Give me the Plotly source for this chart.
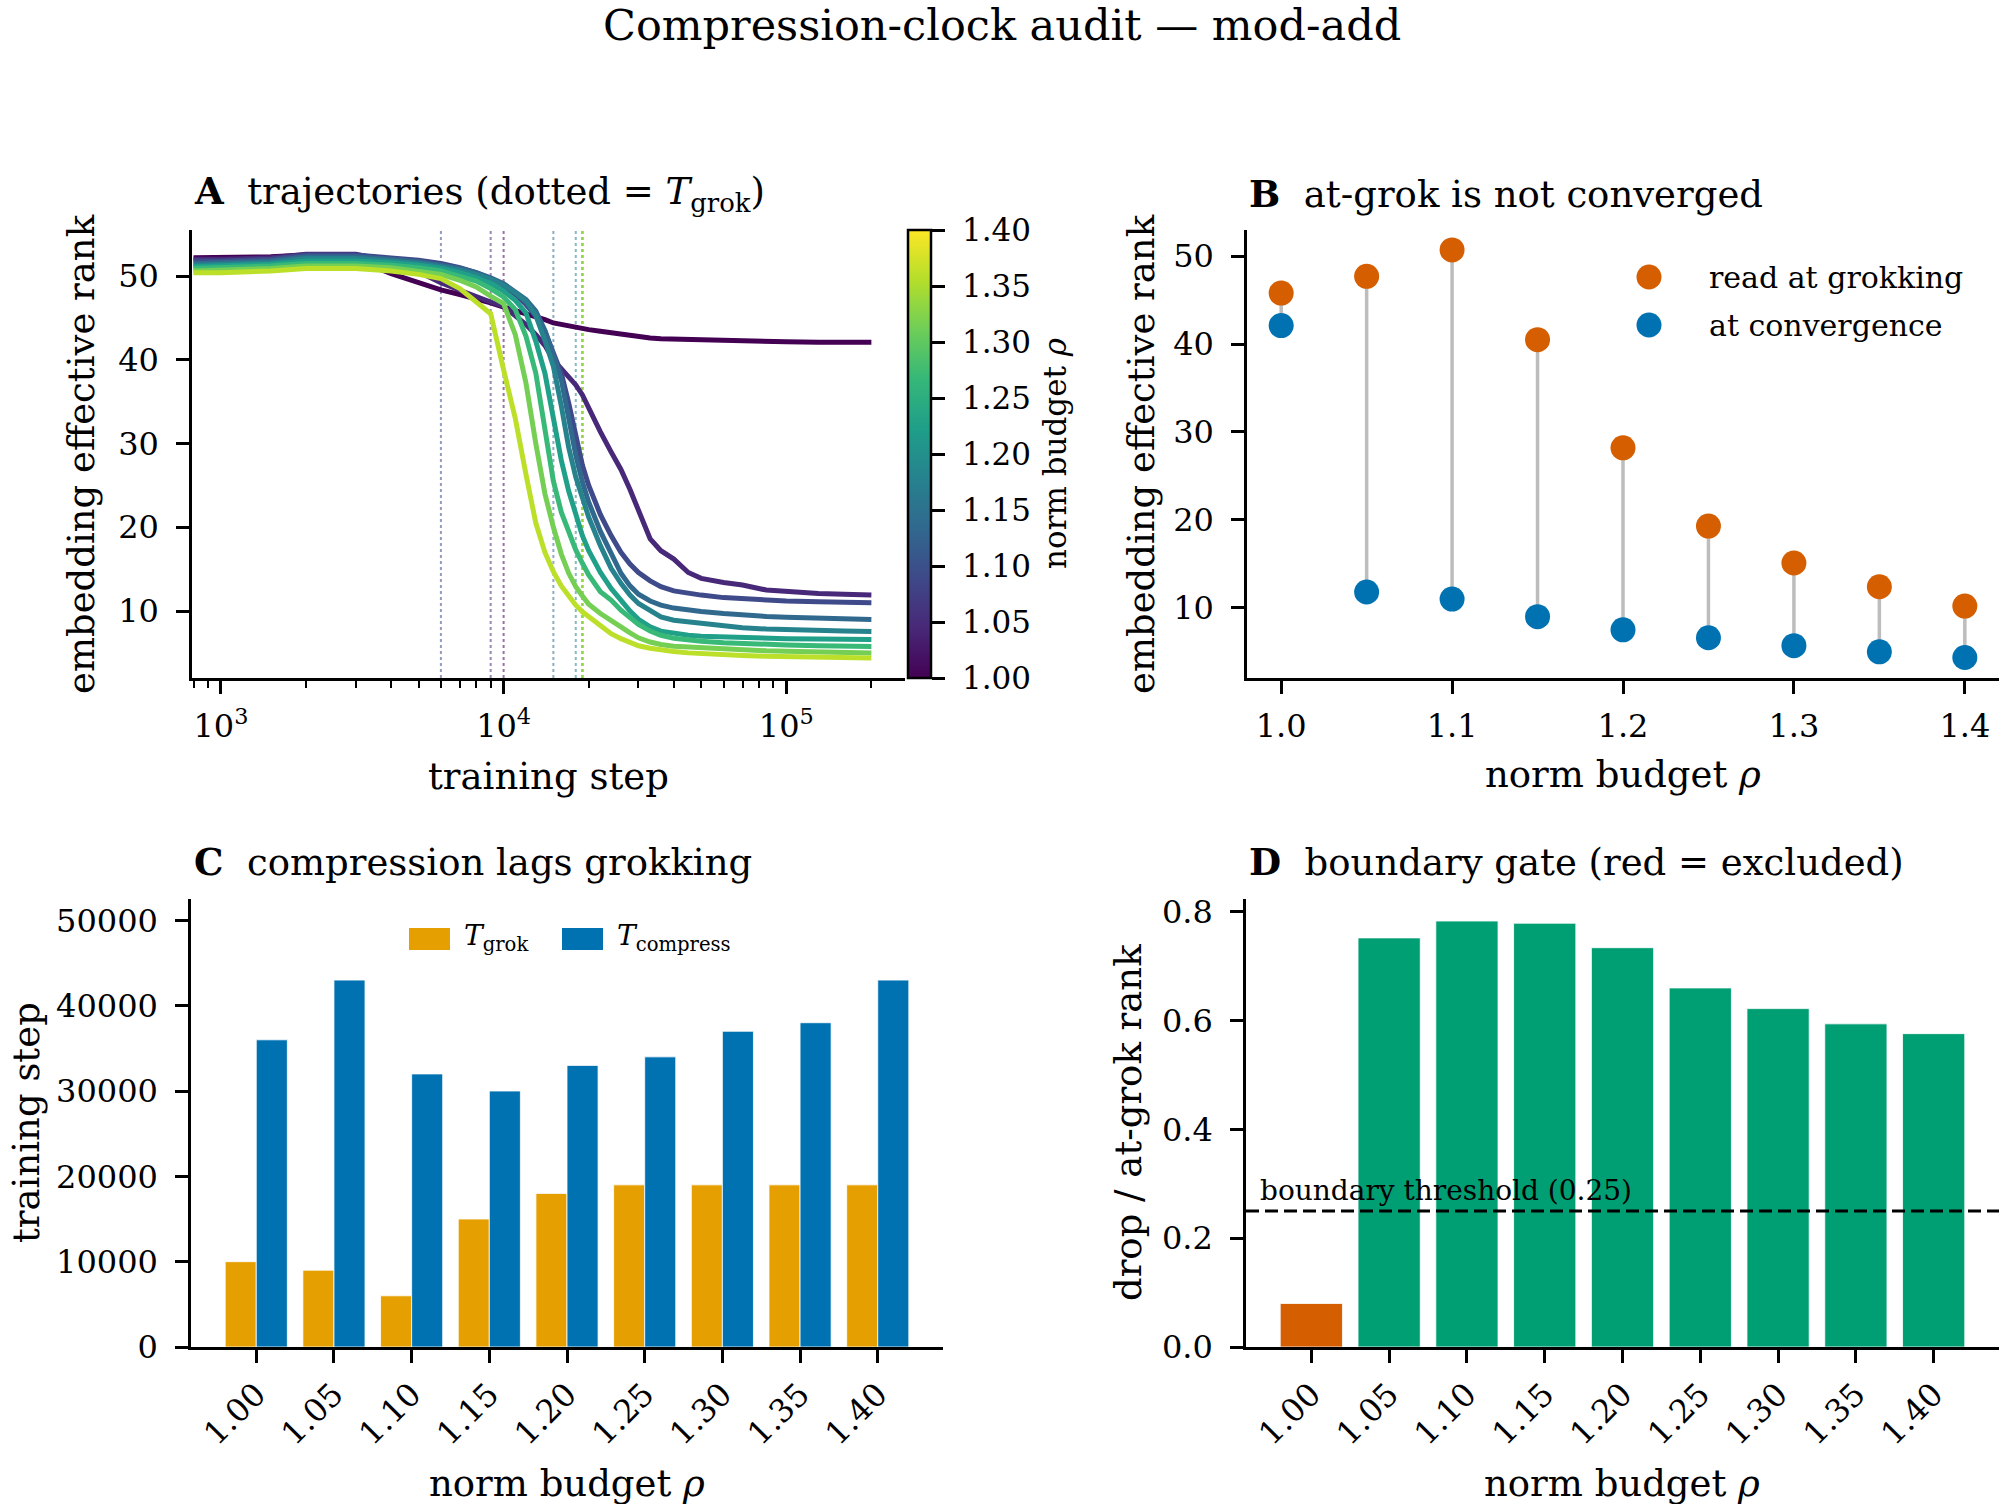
import numpy as np
import plotly.graph_objects as go
from plotly.colors import sample_colorscale

FONT = "DejaVu Serif"

# ---------------- data ----------------
rho = [1.00, 1.05, 1.10, 1.15, 1.20, 1.25, 1.30, 1.35, 1.40]
rho_labels = ["1.00", "1.05", "1.10", "1.15", "1.20", "1.25", "1.30", "1.35", "1.40"]

steps = [800, 1000, 1500, 2000, 3000, 4000, 5000, 6000, 7000, 8000, 9000, 10000,
         11000, 12000, 13000, 14000, 15000, 16000, 17000, 18000, 19000, 20000,
         22000, 24000, 26000, 28000, 30000, 33000, 36000, 40000, 45000, 50000,
         60000, 70000, 85000, 100000, 130000, 160000, 200000]

rank_100 = [52.2, 52.2, 52.3, 52.5, 52.0, 50.3, 49.2, 48.35, 47.8, 47.3, 46.8, 46.3, 45.9,
            45.5, 45.1, 44.8, 44.4, 44.2, 44.0, 43.85, 43.7, 43.6, 43.4, 43.2, 43.0, 42.85,
            42.7, 42.6, 42.5, 42.45, 42.4, 42.35, 42.3, 42.25, 42.2, 42.15, 42.1, 42.1, 42.1]
rank_105 = [52.0, 52.0, 52.2, 52.6, 52.6, 51.8, 50.5, 49.2, 48.3, 47.5, 46.9, 46.4, 45.3,
            44.2, 43.0, 41.7, 40.0, 38.9, 37.9, 37.0, 35.8, 34.2, 31.4, 29.0, 26.9, 24.5,
            22.0, 18.6, 17.2, 16.2, 14.6, 13.9, 13.4, 13.1, 12.5, 12.3, 12.1, 12.0, 11.9]
rank_110 = [51.8, 51.8, 52.0, 52.5, 52.5, 52.2, 51.9, 51.5, 51.0, 50.4, 49.7, 48.8, 47.8,
            46.6, 45.2, 43.4, 41.0, 38.4, 34.8, 30.8, 27.4, 25.0, 21.5, 19.0, 17.0, 15.6,
            14.6, 13.6, 12.9, 12.4, 12.1, 11.9, 11.6, 11.45, 11.3, 11.2, 11.1, 11.05, 11.0]
rank_115 = [51.5, 51.6, 51.8, 52.3, 52.3, 52.0, 51.7, 51.3, 50.9, 50.4, 49.8, 49.1, 48.2,
            47.2, 45.8, 43.5, 40.6, 37.6, 33.0, 28.6, 25.4, 23.0, 19.5, 16.8, 14.5, 13.0,
            12.0, 11.2, 10.7, 10.35, 10.1, 9.95, 9.7, 9.5, 9.35, 9.25, 9.1, 9.05, 9.0]
rank_120 = [51.3, 51.4, 51.6, 52.1, 52.1, 51.8, 51.5, 51.1, 50.7, 50.2, 49.6, 48.9, 48.0,
            47.0, 45.3, 42.3, 39.2, 34.5, 29.5, 26.0, 23.4, 21.2, 17.8, 15.1, 13.3, 11.9,
            10.9, 10.0, 9.3, 8.9, 8.7, 8.55, 8.2, 8.0, 7.85, 7.75, 7.65, 7.6, 7.55]
rank_125 = [51.1, 51.2, 51.4, 51.8, 51.8, 51.6, 51.3, 50.9, 50.4, 49.8, 49.1, 48.2, 47.1,
            45.6, 42.2, 38.4, 33.0, 28.0, 24.3, 21.3, 19.0, 17.2, 14.6, 12.7, 11.2, 10.0,
            9.0, 8.1, 7.6, 7.3, 7.1, 7.0, 6.9, 6.85, 6.75, 6.7, 6.65, 6.6, 6.6]
rank_130 = [50.9, 51.0, 51.2, 51.5, 51.5, 51.3, 51.0, 50.6, 50.0, 49.4, 48.5, 47.5, 46.0,
            42.8, 38.4, 31.5, 25.5, 21.8, 19.3, 17.3, 15.7, 14.3, 12.3, 11.3, 10.1, 9.2,
            8.4, 7.6, 7.1, 6.75, 6.5, 6.4, 6.2, 6.1, 6.0, 5.95, 5.85, 5.8, 5.75]
rank_135 = [50.6, 50.7, 50.9, 51.2, 51.2, 51.0, 50.6, 50.2, 49.5, 48.7, 47.6, 46.7, 43.0,
            37.2, 30.0, 24.0, 20.0, 16.8, 14.5, 12.9, 11.8, 10.8, 9.7, 8.8, 8.1, 7.4,
            6.8, 6.3, 6.0, 5.8, 5.7, 5.6, 5.45, 5.35, 5.25, 5.2, 5.1, 5.05, 5.0]
rank_140 = [50.4, 50.4, 50.6, 50.9, 50.9, 50.6, 50.2, 49.7, 48.5, 46.9, 45.5, 38.8, 33.0,
            26.3, 20.5, 17.0, 14.7, 13.0, 11.7, 10.7, 9.9, 9.3, 8.2, 7.3, 6.7, 6.2,
            5.85, 5.55, 5.35, 5.17, 5.0, 4.9, 4.8, 4.7, 4.6, 4.55, 4.5, 4.45, 4.4]
trajectories = [rank_100, rank_105, rank_110, rank_115, rank_120,
                rank_125, rank_130, rank_135, rank_140]

t_grok = [10000, 9000, 6000, 15000, 18000, 19000, 19000, 19000, 19000]
t_compress = [36000, 43000, 32000, 30000, 33000, 34000, 37000, 38000, 43000]

rank_at_grok = [45.8, 47.7, 50.7, 40.5, 28.2, 19.3, 15.1, 12.4, 10.2]
rank_at_conv = [42.1, 11.8, 11.0, 9.0, 7.5, 6.6, 5.7, 5.0, 4.35]

drop_ratio = [0.08, 0.752, 0.783, 0.779, 0.734, 0.660, 0.622, 0.594, 0.576]
threshold = 0.25

# ---------------- styling ----------------
C_ORANGE = "#E69F00"
C_BLUE = "#0072B2"
C_RED = "#D55E00"
C_GREEN = "#009E73"
line_cols = sample_colorscale("Viridis", [0.9 * i / 8 for i in range(9)])

W, H = 2005, 1504
def px_x(p):
    return p / W
def px_y(p):
    return 1 - p / H

A_TOP, A_BOT = 230, 678
dom_A = dict(x=[px_x(192), px_x(905)], y=[px_y(A_BOT), px_y(A_TOP)])
dom_B = dict(x=[px_x(1247), px_x(1999)], y=[px_y(A_BOT), px_y(A_TOP)])
dom_C = dict(x=[px_x(191), px_x(943)], y=[px_y(1347), px_y(899)])
dom_D = dict(x=[px_x(1246), px_x(1999)], y=[px_y(1347), px_y(899)])

TICKFONT = dict(family=FONT, size=32, color="black")
common = dict(showline=True, linewidth=2.5, linecolor="black", ticks="outside",
              ticklen=13, tickwidth=2.5, tickcolor="black", showgrid=False,
              zeroline=False, tickfont=TICKFONT, automargin=False)
ycommon = dict(common, ticklabelstandoff=11)
xcommon = dict(common, ticklabelstandoff=5)
xrot = dict(common, ticklabelstandoff=0)

fig = go.Figure()

# ---------------- panel A ----------------
for i in range(len(rho)):
    fig.add_trace(go.Scatter(x=[t_grok[i], t_grok[i]], y=[2.0, 55.5], mode="lines",
                             line=dict(color=line_cols[i], width=2, dash="dot"),
                             opacity=0.55, showlegend=False, hoverinfo="skip",
                             xaxis="x", yaxis="y"))
for i in range(len(rho)):
    fig.add_trace(go.Scatter(x=steps, y=trajectories[i], mode="lines",
                             line=dict(color=line_cols[i], width=5),
                             showlegend=False, xaxis="x", yaxis="y"))

cbar = dict(
    x=px_x(908), xanchor="left", xpad=0,
    y=px_y(A_BOT), yanchor="bottom", ypad=0,
    len=(A_BOT - A_TOP) / H, lenmode="fraction",
    thickness=23, outlinewidth=2.5, outlinecolor="black",
    ticks="outside", ticklen=13, tickwidth=2.5, tickcolor="black",
    tickvals=rho, showticklabels=False,
)
fig.add_trace(go.Scatter(
    x=[None], y=[None], mode="markers", showlegend=False, hoverinfo="skip",
    xaxis="x", yaxis="y",
    marker=dict(color=[rho[0]], colorscale="Viridis", cmin=rho[0], cmax=rho[-1],
                showscale=True, colorbar=cbar)))

# ---------------- panel B ----------------
stem_x, stem_y = [], []
for r, g, c in zip(rho, rank_at_grok, rank_at_conv):
    stem_x += [r, r, None]
    stem_y += [c, g, None]
fig.add_trace(go.Scatter(x=stem_x, y=stem_y, mode="lines",
                         line=dict(color="#bdbdbd", width=3.5),
                         showlegend=False, hoverinfo="skip", xaxis="x2", yaxis="y2"))
fig.add_trace(go.Scatter(x=rho, y=rank_at_grok, mode="markers",
                         marker=dict(color=C_RED, size=25, line=dict(width=0)),
                         name="read at grokking", showlegend=False,
                         xaxis="x2", yaxis="y2"))
fig.add_trace(go.Scatter(x=rho, y=rank_at_conv, mode="markers",
                         marker=dict(color=C_BLUE, size=25, line=dict(width=0)),
                         name="at convergence", showlegend=False,
                         xaxis="x2", yaxis="y2"))

# ---------------- panel C ----------------
fig.add_trace(go.Bar(x=rho_labels, y=t_grok,
                     marker=dict(color=C_ORANGE, line=dict(color="white", width=0.8)),
                     offsetgroup="g", showlegend=False, xaxis="x3", yaxis="y3"))
fig.add_trace(go.Bar(x=rho_labels, y=t_compress,
                     marker=dict(color=C_BLUE, line=dict(color="white", width=0.8)),
                     offsetgroup="c", showlegend=False, xaxis="x3", yaxis="y3"))

# ---------------- panel D ----------------
bar_cols = [C_RED if v < threshold else C_GREEN for v in drop_ratio]
fig.add_trace(go.Bar(x=rho_labels, y=drop_ratio, width=0.8,
                     marker=dict(color=bar_cols, line=dict(color="white", width=0.8)),
                     showlegend=False, xaxis="x4", yaxis="y4"))

# ---------------- axes ----------------
minor_vals = [800, 900] + [k * 10 ** e for e in (3, 4) for k in range(2, 10)] + [200000]
fig.update_layout(
    xaxis=dict(xcommon, domain=dom_A["x"], anchor="y", type="log",
               range=[np.log10(790), np.log10(263000)],
               tickvals=[1e3, 1e4, 1e5],
               ticktext=["10<sup>3</sup>", "10<sup>4</sup>", "10<sup>5</sup>"],
               minor=dict(ticks="outside", ticklen=7, tickwidth=2, tickcolor="black",
                          tickvals=minor_vals, showgrid=False)),
    yaxis=dict(ycommon, domain=dom_A["y"], anchor="x", range=[2.0, 55.5],
               tickvals=[10, 20, 30, 40, 50]),
    xaxis2=dict(xcommon, domain=dom_B["x"], anchor="y2", range=[0.98, 1.42],
                tickvals=[1.0, 1.1, 1.2, 1.3, 1.4], tickformat=".1f"),
    yaxis2=dict(ycommon, domain=dom_B["y"], anchor="x2", range=[2.02, 52.97],
                tickvals=[10, 20, 30, 40, 50]),
    xaxis3=dict(xrot, domain=dom_C["x"], anchor="y3", type="category",
                range=[-0.84, 8.84], tickangle=-45),
    yaxis3=dict(ycommon, domain=dom_C["y"], anchor="x3", range=[0, 52500],
                tickvals=[0, 10000, 20000, 30000, 40000, 50000], tickformat="d"),
    xaxis4=dict(xrot, domain=dom_D["x"], anchor="y4", type="category",
                range=[-0.84, 8.84], tickangle=-45),
    yaxis4=dict(ycommon, domain=dom_D["y"], anchor="x4", range=[0, 0.8235],
                tickvals=[0, 0.2, 0.4, 0.6, 0.8], tickformat=".1f"),
    barmode="group", bargap=0.2, bargroupgap=0.0,
)

# threshold line in D
fig.add_shape(type="line", xref="x4 domain", yref="y4", x0=0, x1=1,
              y0=threshold, y1=threshold,
              line=dict(color="black", width=3, dash="13px,6px"))

ann = []
def label(text, x, y, size=37, angle=0, xanchor="center", yanchor="middle"):
    ann.append(dict(text=text, x=x, y=y, xref="paper", yref="paper", showarrow=False,
                    textangle=angle, xanchor=xanchor, yanchor=yanchor,
                    font=dict(family=FONT, size=size, color="black")))

NB = "\u00a0\u00a0"
label("Compression-clock audit — mod-add", px_x(1002), px_y(25), size=43)
label("<b>A</b>" + NB + "trajectories (dotted = <i>T</i><sub>grok</sub>)",
      px_x(192), px_y(194), xanchor="left")
label("<b>B</b>" + NB + "at-grok is not converged", px_x(1247), px_y(194), xanchor="left")
label("<b>C</b>" + NB + "compression lags grokking", px_x(192), px_y(862), xanchor="left")
label("<b>D</b>" + NB + "boundary gate (red = excluded)", px_x(1247), px_y(862),
      xanchor="left")

label("training step", px_x(548), px_y(776))
label("embedding effective rank", px_x(82), px_y(454), angle=-90)
label("norm budget <i>ρ</i>", px_x(1623), px_y(774))
label("embedding effective rank", px_x(1142), px_y(454), angle=-90)
label("norm budget <i>ρ</i>", px_x(567), px_y(1483))
label("training step", px_x(26), px_y(1123), angle=-90)
label("norm budget <i>ρ</i>", px_x(1622), px_y(1483))
label("drop / at-grok rank", px_x(1128), px_y(1123), angle=-90)

# colorbar tick labels and title
for v, t in zip(rho, rho_labels):
    yy = A_BOT - (v - rho[0]) / (rho[-1] - rho[0]) * (A_BOT - A_TOP)
    label(t, px_x(960), px_y(yy), size=31, xanchor="left")
label("norm budget <i>ρ</i>", px_x(1055), px_y((A_TOP + A_BOT) / 2), size=31, angle=-90)

# legend B (manual)
for yy, col, txt in [(277, C_RED, "read at grokking"), (325, C_BLUE, "at convergence")]:
    fig.add_shape(type="circle", xref="paper", yref="paper", xsizemode="pixel",
                  ysizemode="pixel", xanchor=px_x(1649), yanchor=px_y(yy),
                  x0=-12.5, x1=12.5, y0=-12.5, y1=12.5, fillcolor=col,
                  line=dict(width=0))
    label(txt, px_x(1707), px_y(yy), size=30, xanchor="left")

# legend C (manual)
for x0, col, txt in [(409, C_ORANGE, "<i>T</i><sub>grok</sub>"),
                     (562, C_BLUE, "<i>T</i><sub>compress</sub>")]:
    fig.add_shape(type="rect", xref="paper", yref="paper",
                  x0=px_x(x0), x1=px_x(x0 + 41), y0=px_y(950), y1=px_y(928),
                  fillcolor=col, line=dict(width=0))
    label(txt, px_x(x0 + 53), px_y(937), size=28, xanchor="left")

# threshold text
ann.append(dict(text="boundary threshold (0.25)", x=-0.68, y=threshold, xref="x4",
                yref="y4", showarrow=False, xanchor="left", yanchor="bottom", yshift=2,
                font=dict(family=FONT, size=28, color="black")))

fig.update_layout(annotations=ann, width=W, height=H,
                  margin=dict(l=0, r=0, t=0, b=0),
                  paper_bgcolor="white", plot_bgcolor="white",
                  font=dict(family=FONT, color="black"), showlegend=False)

fig.write_html("out.html")
